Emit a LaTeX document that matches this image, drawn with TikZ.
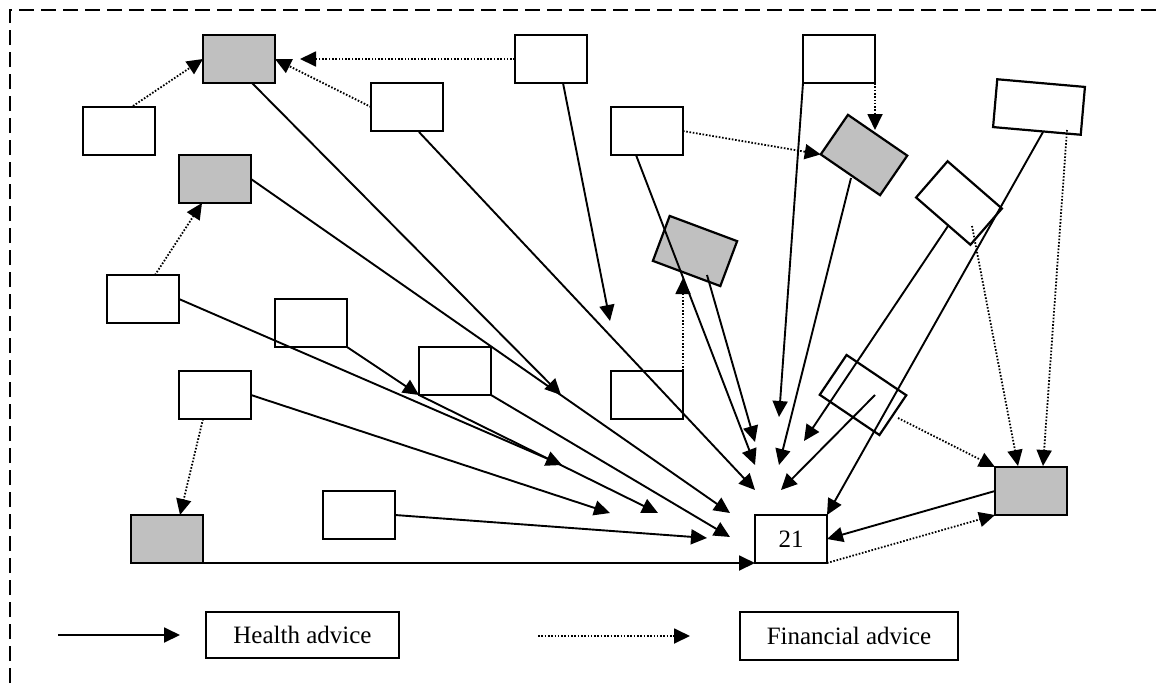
\documentclass[tikz,border=0pt]{standalone}
\usepackage{fontspec}
\setmainfont{Liberation Serif}
\usetikzlibrary{arrows.meta,calc}
\definecolor{boxgray}{HTML}{C0C0C0}
\begin{document}
\begin{tikzpicture}[x=1pt,y=-1pt,
  box/.style={draw=black,line width=2.2pt,fill=white,minimum width=72pt,minimum height=48pt,inner sep=0pt,outer sep=0pt},
  shaded/.style={box,fill=boxgray},
  health/.style={line width=1.9pt,-{Triangle[length=16pt,width=15pt]}},
  finance/.style={line width=1.8pt,dash pattern=on 1.6pt off 1.7pt,-{Triangle[length=16pt,width=15pt]}},
  every node/.style={font=\fontsize{25}{30}\selectfont}]
\useasboundingbox (0,0) rectangle (1162,683);

% dashed frame (top and left sides)
\draw[line width=1.9pt,dash pattern=on 15pt off 7pt] (10,683) -- (10,10) -- (1162,10);

% actors
\node[shaded] (A) at (239,59) {};
\node[box] (B) at (119,131) {};
\node[box] (C) at (407,107) {};
\node[shaded] (D) at (215,179) {};
\node[box] (E) at (551,59) {};
\node[box] (G) at (647,131) {};
\node[box] (I) at (839,59) {};
\node[shaded,rotate=-34.5] (J) at (864,155) {};
\node[box,rotate=-41] (K) at (959,203) {};
\node[box,rotate=-5,minimum width=88pt] (M) at (1039,107) {};
\node[shaded,rotate=-20.5] (F) at (695,251) {};
\node[box] (P) at (143,299) {};
\node[box] (Q) at (311,323) {};
\node[box] (R) at (455,371) {};
\node[box] (S) at (215,395) {};
\node[box] (H) at (647,395) {};
\node[box,rotate=-34] (L) at (863,395) {};
\node[box] (T) at (359,515) {};
\node[shaded] (U) at (167,539) {};
\node[box] (hub) at (791,539) {21};
\node[shaded] (N) at (1031,491) {};

% legend boxes
\node[box,minimum width=193pt,minimum height=46pt] (hl) at (302.5,635) {Health advice};
\node[box,minimum width=218pt] (fl) at (849,636) {Financial advice};

% free ends of the health-advice arrows
\coordinate (tE) at (610,321);
\coordinate (tA) at (561,395);
\coordinate (tC) at (755,490);
\coordinate (tD) at (730,513);
\coordinate (tG) at (755,465);
\coordinate (tF) at (755,442);
\coordinate (tI) at (779,417);
\coordinate (tJ) at (779,465);
\coordinate (tK) at (804,441);
\coordinate (tL) at (781,490);
\coordinate (tP) at (562,465);
\coordinate (tR1) at (658,513);
\coordinate (tR2) at (730,537);
\coordinate (tS) at (610,513);
\coordinate (tT) at (707,538);
\coordinate (tEA) at (300,59);

% health advice
\draw[health] ($(E.center)+(12,24)$) -- (tE);
\draw[health] ($(A.center)+(13,24)$) -- (tA);
\draw[health] ($(C.center)+(12,25)$) -- (tC);
\draw[health] (D.east) -- (tD);
\draw[health] ($(G.center)+(-11,24)$) -- (tG);
\draw[health] ($(F.center)+(12,24)$) -- (tF);
\draw[health] (I.south west) -- (tI);
\draw[health] ($(J.center)+(-13,23)$) -- (tJ);
\draw[health] ($(K.center)+(-11,23)$) -- (tK);
\draw[health] ($(L.center)+(12,0)$) -- (tL);
\draw[health] ($(M.center)+(4,25)$) -- (hub.north east);
\draw[health] (N.west) -- (hub.east);
\draw[health] (P.east) -- (tP);
\draw[health] (Q.south east) -- (R.south west);
\draw[health] (R.south west) -- (tR1);
\draw[health] (R.south east) -- (tR2);
\draw[health] (S.east) -- (tS);
\draw[health] (T.east) -- (tT);
\draw[health] (U.south east) -- (hub.south west);

% financial advice
\draw[finance] ($(B.center)+(14,-25)$) -- (A.west);
\draw[finance] (E.west) -- (tEA);
\draw[finance] (C.west) -- (A.east);
\draw[finance] ($(P.center)+(12,-24)$) -- ($(D.center)+(-13,24)$);
\draw[finance] ($(S.center)+(-12,24)$) -- ($(U.center)+(13,-24)$);
\draw[finance] (H.north east) -- ($(F.center)+(-12,27)$);
\draw[finance] (G.east) -- (J.south west);
\draw[finance] (I.south east) -- ($(J.center)+(11,-25)$);
\draw[finance] ($(L.center)+(35,23)$) -- (N.north west);
\draw[finance] ($(K.center)+(13,23)$) -- ($(N.center)+(-13,-25)$);
\draw[finance] ($(M.center)+(28,23)$) -- ($(N.center)+(12,-25)$);
\draw[finance] (hub.south east) -- (N.south west);

% legend arrows
\coordinate (hs) at (58,635);
\coordinate (he) at (180,635);
\draw[health] (hs) -- (he);
\coordinate (fs) at (538,636);
\coordinate (fe) at (690,636);
\draw[finance] (fs) -- (fe);
\end{tikzpicture}
\end{document}
